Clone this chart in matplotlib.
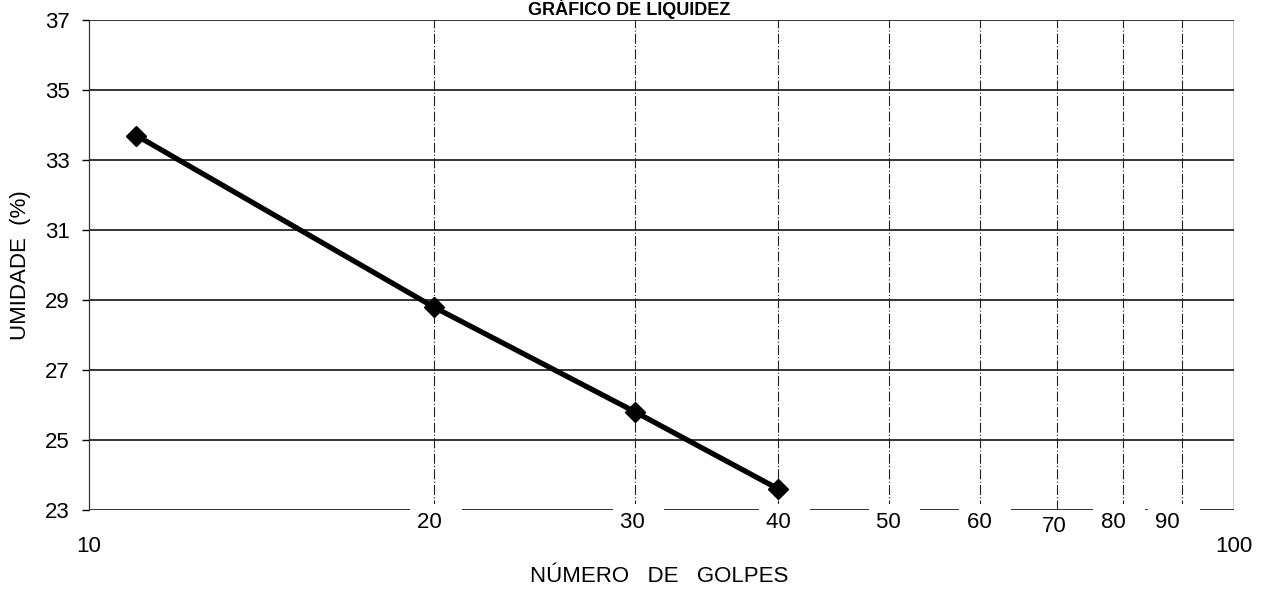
import numpy as np
import matplotlib.pyplot as plt
from matplotlib import transforms

plt.rcParams['font.family'] = ['Liberation Sans', 'DejaVu Sans']

# dados
golpes = [11, 20, 30, 40]
umidade = [33.7, 28.8, 25.8, 23.6]

x_ticks = [10, 20, 30, 40, 50, 60, 70, 80, 90, 100]
y_ticks = [23, 25, 27, 29, 31, 33, 35, 37]

FS = 16

fig = plt.figure(figsize=(12.63, 5.92), dpi=100)
ax = fig.add_axes([89 / 1263, 82 / 592, 1145 / 1263, 490 / 592])
ax.set_xscale('log')
ax.set_xlim(10, 100)
ax.set_ylim(23, 37)

# grade horizontal (linhas cheias)
for y in y_ticks:
    ax.axhline(y, color='black', lw=1.1, zorder=1)

# grade vertical (tracejada)
for x in x_ticks[1:-1]:
    ax.axvline(x, ymin=0.0, color='#222222', lw=0.8, ls=(0, (9, 2, 1, 2)), zorder=1)
ax.axvline(100, color='black', lw=1.0, zorder=1)

for s in ['top', 'right', 'bottom']:
    ax.spines[s].set_visible(False)
ax.spines['left'].set_color('#333333')
ax.spines['left'].set_linewidth(0.9)

# curva
ax.plot(golpes, umidade, color='black', lw=3.8, marker='D', ms=10, zorder=4)

ax.set_yticks(y_ticks)
ax.tick_params(axis='y', direction='out', length=5, width=1.0, labelsize=FS, pad=9)
ax.set_xticks([])
ax.xaxis.set_minor_locator(plt.NullLocator())

# rótulos do eixo x sobre a linha inferior
trans = transforms.blended_transform_factory(ax.transData, ax.transAxes)
x_shift = {20: -4, 30: -3, 40: 0, 50: -1, 60: -1, 70: -2, 80: -10, 90: -14}
for v in x_ticks:
    if v in (10, 100):
        ax.annotate(str(v), (v, 0), xycoords=trans, xytext=(0, -36 * 0.72),
                    textcoords='offset points', ha='center', va='center',
                    fontsize=FS, annotation_clip=False, zorder=6)
    elif v == 70:
        ax.annotate(str(v), (v, 0), xycoords=trans, xytext=(x_shift[v] * 0.72, -17 * 0.72),
                    textcoords='offset points', ha='center', va='center',
                    fontsize=FS, annotation_clip=False, zorder=6)
    else:
        ax.annotate(str(v) + '  ', (v, 0), xycoords=trans,
                    xytext=((x_shift[v] + 6.2) * 0.72, -12 * 0.72),
                    textcoords='offset points', ha='center', va='center',
                    fontsize=FS, annotation_clip=False, zorder=6,
                    bbox=dict(boxstyle='square,pad=0.33', fc='white', ec='none'))

ax.set_ylabel('UMIDADE  (%)', fontsize=FS, labelpad=10)
fig.text(659 / 1263, 1 - 577 / 592, 'NÚMERO   DE   GOLPES', fontsize=FS, ha='center', va='center')
fig.text(629 / 1263, 1 - 9 / 592, 'GRÁFICO DE LIQUIDEZ', fontsize=13, fontweight='bold',
         ha='center', va='center')

fig.savefig('out.png', dpi=100)
